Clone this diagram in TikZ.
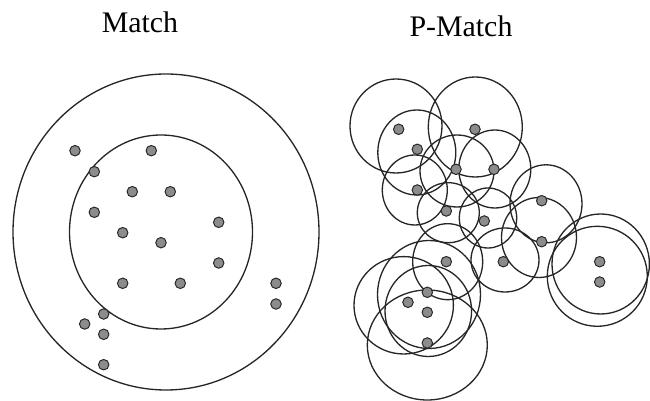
\documentclass[tikz,border=0pt]{standalone}
\usepackage{fontspec}
\setmainfont{Liberation Serif}
\usepackage{tikz}

\begin{document}
\begin{tikzpicture}[x=0.02cm, y=-0.02cm,
    datapt/.style={circle, draw=black!85, fill=black!45, line width=0.55pt,
        inner sep=0pt, minimum size=0.21cm},
    ring/.style={draw=black!85, line width=0.75pt},
    title/.style={font=\fontsize{17}{20}\selectfont, anchor=base}
]
    \useasboundingbox (0,0) rectangle (650,401);
    \node[title] (tm) at (140,33) {Match};
    \node[title] (tp) at (461,37) {P-Match};

    % Match: two fixed radii
    \draw[ring] (166,232) ellipse [x radius=153, y radius=158];
    \draw[ring] (161,232) ellipse [x radius=91.5, y radius=97];
    \foreach \x/\y [count=\i] in {75/150.7, 151.3/150.7, 94.3/171.7, 132.3/191.7,
        170.3/191.7, 94.3/212.3, 218.7/222.3, 122.7/232.7, 161/242.7, 218.7/263,
        122.7/283.3, 180.3/283.3, 276/283.3, 276/304, 103.7/314, 84.7/324,
        103.7/334.3, 103.7/364.7}
        \node[datapt] (m\i) at (\x,\y) {};

    % P-Match: one ring per point
    \foreach \x/\y/\a/\b in {396/126/46/47, 475.3/127/47/50, 416.8/152.5/39/42.5,
        457/171/37/36, 494.8/169/36/39, 414.8/190/32.5/35, 448.3/212.7/31/30,
        488/218/28.7/30, 546/203.8/36/39, 539/237.5/37.5/40, 447.7/261.7/35/38,
        505/260/34/32, 600.7/264/48.7/50, 597.3/276.3/50/50, 403.7/305.3/49.7/48.7,
        429/294.5/51.5/54, 428.3/311/43.3/45.5, 427.3/345/60/55}
        \draw[ring] (\x,\y) ellipse [x radius=\a, y radius=\b];
    \foreach \x/\y [count=\i] in {398.7/129.3, 475/129.3, 417.3/149.3, 456/169.3,
        494/169.3, 417.3/190, 446.3/211, 541.7/200.7, 484.3/221, 541.7/241.7,
        446.3/261.7, 503.3/261.7, 599.7/261.7, 599.7/282, 427.3/292.3, 408/302.3,
        427.3/312.3, 427.3/343}
        \node[datapt] (p\i) at (\x,\y) {};
\end{tikzpicture}
\end{document}
